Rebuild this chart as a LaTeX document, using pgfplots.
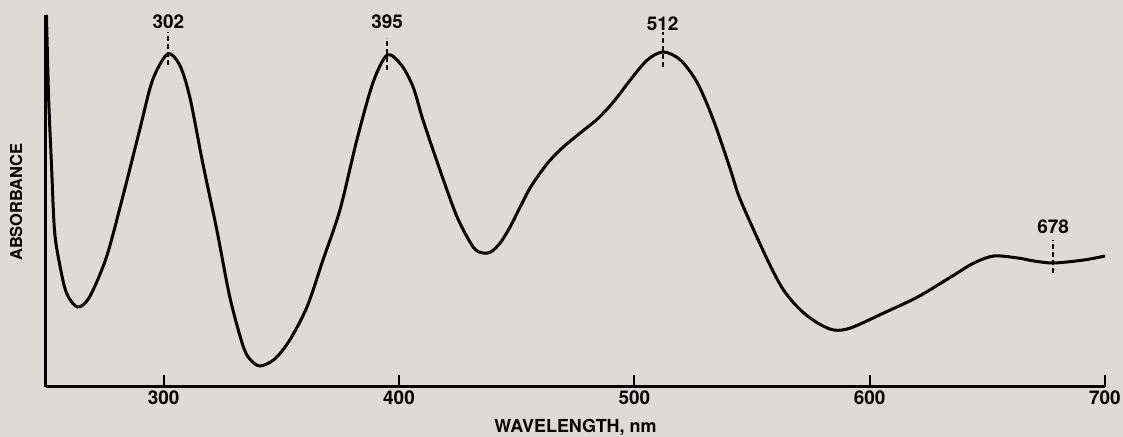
\documentclass[border=0pt]{standalone}
\usepackage{pgfplots}
\pgfplotsset{compat=1.18}
\usepackage{fontspec}
\setmainfont{TeX Gyre Heros}
\definecolor{bg}{RGB}{221,219,216}
\pgfplotstableread{
x y
250.2 372
251.1 290
252.3 224
253.6 157
255.7 124
258.7 94
263.4 80
268.5 90
275.7 130
282.6 190
289.8 257
295.3 307
301.7 333
306.8 322
311.1 290
316.6 224
322.6 157
328.1 90
333.6 42
336.6 28
340.9 21
347.2 28
353.6 47
360.9 80
367.7 127
374.9 177
382.1 247
388.9 304
395.0 332
401.0 322
406.0 300
410.2 267
417.4 217
424.7 170
431.5 140
435.5 134
439.0 135
443.0 144
447.2 160
451.5 180
455.7 199
460.0 214
464.3 227
469.8 240
477.0 254
484.3 268
491.1 285
498.3 307
505.5 327
512.3 335
519.6 327
526.8 304
533.6 267
540.9 217
545.1 187
556.6 127
563.4 97
570.6 77
577.9 64
584.7 57
591.9 59
606.0 74
620.4 90
634.5 110
644.3 124
652.8 131
663.0 129
669.8 126
678.3 124
691.0 127
700.0 131
}\spectrum
\begin{document}
\begin{tikzpicture}[x=1bp,y=1bp]
\fill[bg] (-46,-50) rectangle (1077,387);
\useasboundingbox (-46,-50) rectangle (1077,387);
\begin{axis}[
  at={(0,0)}, anchor=south west,
  scale only axis, width=1059bp, height=372bp,
  xmin=250, xmax=700, ymin=0, ymax=372,
  axis lines*=left,
  axis line style={line width=3bp, black},
  xtick={300,400,500,600,700},
  ytick=\empty,
  tick align=inside,
  major tick length=12bp,
  tick style={line width=2.2bp, black},
  ticklabel style={font=\bfseries\fontsize{19}{23}\selectfont},
  /pgf/number format/assume math mode=true,
  clip=false,
]
\addplot[line width=3bp, smooth, tension=0.5, black] table[x=x,y=y] {\spectrum};
\addplot[line width=2bp, dash pattern=on 5bp off 3bp, black] coordinates {(302,322) (302,355)};
\addplot[line width=2bp, dash pattern=on 5bp off 3bp, black] coordinates {(395,317) (395,349)};
\addplot[line width=2bp, dash pattern=on 5bp off 3bp, black] coordinates {(512,320) (512,355)};
\addplot[line width=2bp, dash pattern=on 5bp off 3bp, black] coordinates {(678,114) (678,147)};
\node[font=\bfseries\fontsize{19}{23}\selectfont] at (axis cs:302,365) {302};
\node[font=\bfseries\fontsize{19}{23}\selectfont] at (axis cs:395,365) {395};
\node[font=\bfseries\fontsize{19}{23}\selectfont] at (axis cs:512,363) {512};
\node[font=\bfseries\fontsize{19}{23}\selectfont] at (axis cs:678,160) {678};
\node[font=\bfseries\fontsize{18}{21}\selectfont] at (rel axis cs:0.5,-0.11) {WAVELENGTH, nm};
\node[font=\bfseries\fontsize{16.5}{20}\selectfont, rotate=90] at (rel axis cs:-0.0283,0.497) {ABSORBANCE};
\end{axis}
\end{tikzpicture}
\end{document}
